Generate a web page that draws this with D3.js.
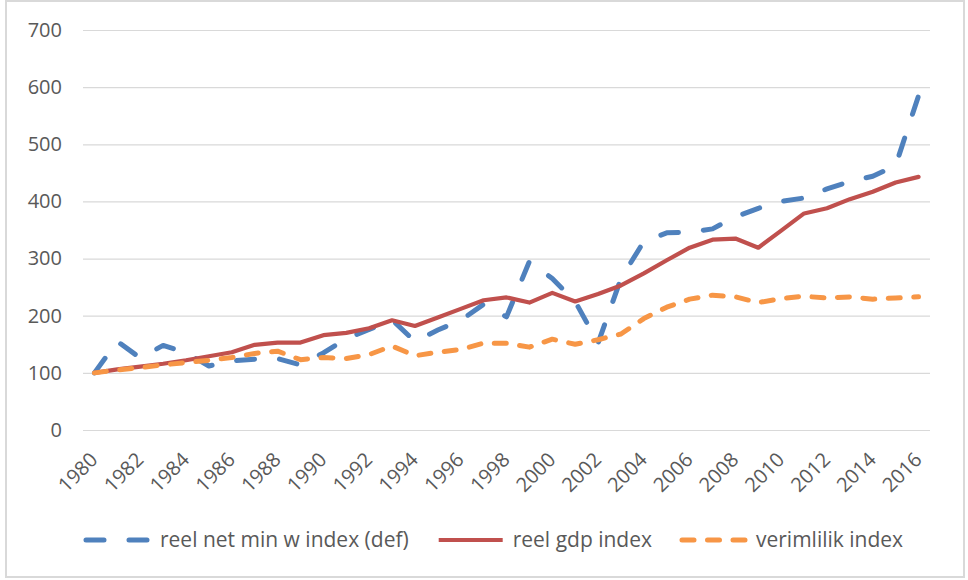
<!DOCTYPE html>
<html>
<head>
<meta charset="utf-8">
<script src="https://cdnjs.cloudflare.com/ajax/libs/d3/7.8.5/d3.min.js"></script>
<style>
  body { margin: 0; background: #fff; }
  text { font-family: "Open Sans", sans-serif; fill: #595959; }
</style>
</head>
<body>
<div id="chart"></div>
<script>
var years = d3.range(1980, 2017)

var minWage = [100, 155, 126, 148, 135, 112, 121, 124, 125, 114, 135, 160, 176, 193, 155, 175,
               192, 220, 198, 295, 265, 225, 152, 265, 330, 345, 346, 352, 373, 388, 400, 406,
               422, 435, 444, 463, 585]
var gdp = [100, 106, 111, 116, 122, 129, 136, 149, 153, 153, 166, 170, 178, 192, 182, 197,
           212, 227, 232, 223, 240, 225, 238, 253, 274, 297, 319, 333, 335, 319, 349, 379,
           388, 404, 417, 433, 443]
var productivity = [100, 105, 109, 114, 118, 122, 127, 134, 138, 123, 127, 125, 132, 147, 130, 136,
                    141, 152, 152, 145, 159, 150, 158, 168, 195, 215, 229, 236, 233, 223, 230, 234,
                    231, 233, 229, 231, 233]

var yTicks = [0, 100, 200, 300, 400, 500, 600, 700]
var xTicks = years.filter(function(y){ return (y - 1980) % 2 == 0 })

var series = [
  {name: 'reel net min w index (def)', values: minWage, color: '#4f81bd', width: 5, dash: '18,25'},
  {name: 'reel gdp index', values: gdp, color: '#c0504d', width: 4.2, dash: null},
  {name: 'verimlilik index', values: productivity, color: '#f79646', width: 5, dash: '12,13.5'}
]

var W = 968, H = 580
var plot = {left: 83, right: 930, top: 30, bottom: 430}

var svg = d3.select('#chart')
  .append('svg')
    .attr('width', W)
    .attr('height', H)

svg.append('rect')
    .attr('x', 6).attr('y', 1)
    .attr('width', 958).attr('height', 576)
    .attr('fill', '#fff')
    .attr('stroke', '#d9d9d9')
    .attr('stroke-width', 2)

var x = d3.scalePoint()
    .domain(years)
    .range([plot.left, plot.right])
    .padding(0.5)

var y = d3.scaleLinear()
    .domain([0, 700])
    .range([plot.bottom, plot.top])

// gridlines + y labels
var yAxis = svg.append('g')
    .attr('transform', 'translate(' + plot.left + ',0)')
    .call(d3.axisLeft(y).tickValues(yTicks).tickSize(-(plot.right - plot.left)).tickPadding(21))
yAxis.select('.domain').remove()
yAxis.selectAll('.tick line').attr('stroke', '#d9d9d9').attr('stroke-width', 1.2)
yAxis.selectAll('.tick text')
    .attr('font-size', 20)
    .attr('font-family', '"Open Sans", sans-serif')
    .attr('fill', '#595959')

// x labels, rotated
var xAxis = svg.append('g')
    .attr('transform', 'translate(0,' + plot.bottom + ')')
    .call(d3.axisBottom(x).tickValues(xTicks).tickSize(0))
xAxis.select('.domain').remove()
xAxis.selectAll('.tick text')
    .attr('font-size', 20)
    .attr('font-family', '"Open Sans", sans-serif')
    .attr('fill', '#595959')
    .attr('text-anchor', 'end')
    .attr('y', 0)
    .attr('dy', 0)
    .attr('transform', 'translate(4,31) rotate(-45)')

var line = d3.line()
    .x(function(d, i){ return x(years[i]) })
    .y(function(d){ return y(d) })

series.forEach(function(s){
  svg.append('path')
      .attr('d', line(s.values))
      .attr('fill', 'none')
      .attr('stroke', s.color)
      .attr('stroke-width', s.width)
      .attr('stroke-linejoin', 'round')
      .attr('stroke-linecap', 'round')
      .attr('stroke-dasharray', s.dash)
})

// legend
var legend = svg.append('g')
var lx = 83, ly = 540
series.forEach(function(s){
  legend.append('line')
      .attr('x1', lx + 3).attr('x2', lx + 67)
      .attr('y1', ly).attr('y2', ly)
      .attr('stroke', s.color)
      .attr('stroke-width', s.width)
      .attr('stroke-linecap', s.dash ? 'round' : 'butt')
      .attr('stroke-dasharray', s.dash)
  var t = legend.append('text')
      .attr('x', lx + 77)
      .attr('y', ly)
      .attr('dy', '0.35em')
      .attr('font-size', 21)
      .text(s.name)
  lx = lx + 77 + t.node().getComputedTextLength() + 27
})
</script>
</body>
</html>
